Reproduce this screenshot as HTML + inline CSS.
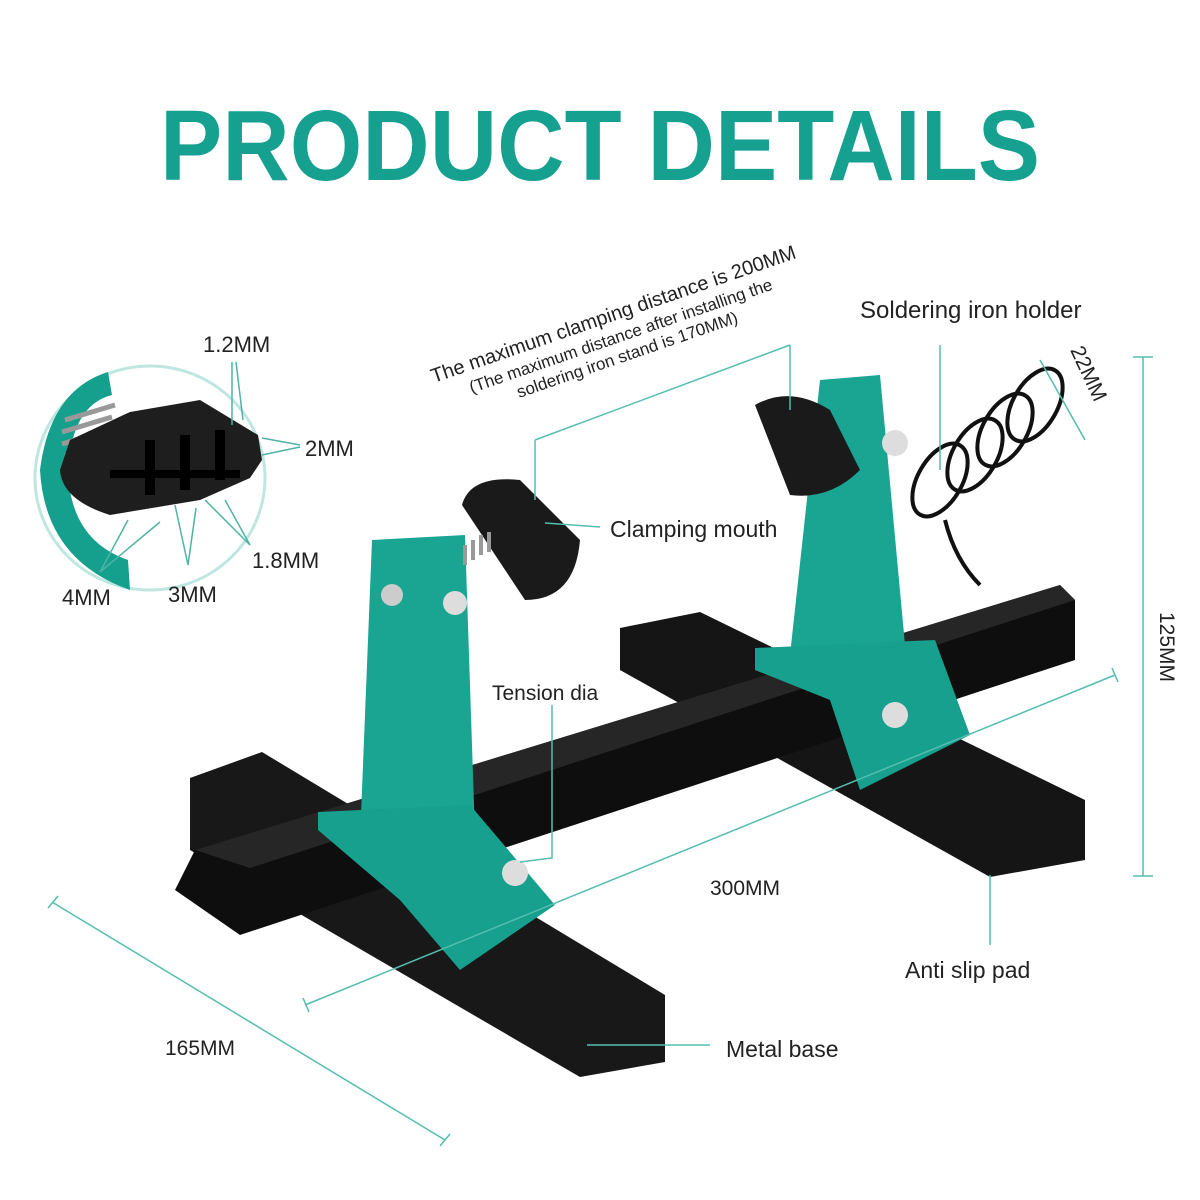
<!DOCTYPE html>
<html><head><meta charset="utf-8"><style>
html,body{margin:0;padding:0;background:#fff;}
svg{display:block}
text{font-family:"Liberation Sans",sans-serif;fill:#222}
</style></head><body>
<svg width="1200" height="1200" viewBox="0 0 1200 1200">
<text x="160" y="180" textLength="880" lengthAdjust="spacingAndGlyphs" style="font-size:100px;font-weight:bold;fill:#16a090">PRODUCT DETAILS</text>

<!-- inset -->
<ellipse cx="150" cy="478" rx="115" ry="112" fill="#fff" stroke="#bfe6e0" stroke-width="3"/>
<path d="M108,372 Q50,390 40,470 Q45,560 130,590 L128,560 Q70,540 68,470 Q72,405 112,395 Z" fill="#14a08c"/>
<g stroke="#999" stroke-width="5" fill="none"><path d="M65,420 l50,-15 M62,432 l50,-15 M62,444 l50,-15 M65,456 l50,-15"/></g>
<path d="M70,440 L130,412 L200,400 L258,435 L262,460 L250,478 L200,500 L110,515 Q62,500 60,470 Z" fill="#1e1e1e"/>
<g fill="#000"><rect x="110" y="470" width="130" height="8"/><rect x="145" y="440" width="10" height="55"/><rect x="180" y="435" width="10" height="55"/><rect x="215" y="430" width="10" height="50"/></g>
<g stroke="#4fb3a6" stroke-width="1.5" fill="none">
<path d="M232,362 L232,425 M236,362 L243,420 M300,445 L262,438 M300,447 L262,455 M250,545 L225,500 M250,545 L205,500 M188,565 L175,505 M188,565 L196,508 M100,572 L128,520 M100,572 L160,522"/>
</g>
<text x="203" y="352" style="font-size:22px">1.2MM</text>
<text x="305" y="456" style="font-size:22px">2MM</text>
<text x="252" y="568" style="font-size:22px">1.8MM</text>
<text x="62" y="605" style="font-size:22px">4MM</text>
<text x="168" y="602" style="font-size:22px">3MM</text>

<!-- base: crossbars then beam -->
<polygon points="620,628 700,612 1085,800 1085,860 990,877 620,670" fill="#151515"/>
<polygon points="190,778 262,752 665,995 665,1062 580,1077 190,850" fill="#181818"/>
<polygon points="195,850 1060,585 1075,600 1075,660 240,935 175,890" fill="#0e0e0e"/>
<polygon points="195,850 1060,585 1075,600 250,868" fill="#262626"/>

<!-- left upright -->
<polygon points="372,540 465,535 475,835 360,840" fill="#19a592"/>
<polygon points="318,812 470,805 555,905 460,970 400,900 318,830" fill="#16a08d"/>
<circle cx="392" cy="595" r="11" fill="#ccc"/>
<circle cx="455" cy="603" r="12" fill="#ddd"/>
<circle cx="515" cy="873" r="13" fill="#ddd"/>
<!-- right upright -->
<polygon points="820,380 880,375 905,645 790,655" fill="#19a592"/>
<polygon points="755,648 935,640 970,735 860,790 830,700 755,670" fill="#16a08d"/>
<circle cx="895" cy="443" r="13" fill="#ddd"/>
<circle cx="895" cy="715" r="13" fill="#ddd"/>
<!-- clamping mouths -->
<path d="M462,505 Q470,475 520,480 L580,540 Q575,600 525,600 Z" fill="#1a1a1a"/>
<g stroke="#999" stroke-width="4"><path d="M465,545 l0,20 M473,540 l0,20 M481,535 l0,20 M489,532 l0,20"/></g>
<path d="M755,405 Q790,385 830,410 L860,470 Q830,500 790,495 Z" fill="#1a1a1a"/>
<!-- spring -->
<g stroke="#111" stroke-width="4" fill="none">
<ellipse cx="940" cy="480" rx="22" ry="40" transform="rotate(30 940 480)"/>
<ellipse cx="975" cy="455" rx="22" ry="40" transform="rotate(30 975 455)"/>
<ellipse cx="1005" cy="430" rx="22" ry="40" transform="rotate(30 1005 430)"/>
<ellipse cx="1035" cy="405" rx="22" ry="40" transform="rotate(30 1035 405)"/>
<path d="M945,520 Q955,560 980,585"/>
</g>

<!-- dimension lines -->
<g stroke="#55bdb0" stroke-width="1.5" fill="none">
<path d="M52,902 L445,1140 M48,908 L58,896 M440,1146 L450,1134"/>
<path d="M305,1005 L1115,675 M303,998 L309,1012 M1112,668 L1118,682"/>
<path d="M1143,357 L1143,876 M1133,357 L1153,357 M1133,876 L1153,876"/>
<path d="M535,440 L790,345 M535,440 L535,500 M790,345 L790,410"/>
<path d="M1040,360 L1085,440"/>
<path d="M940,345 L940,470 M600,527 L545,523 M552,705 L552,858 L520,862 M990,875 L990,945 M587,1045 L710,1045"/>
</g>
<g transform="translate(618,328) rotate(-19)">
<text x="0" y="-8" text-anchor="middle" style="font-size:20px">The maximum clamping distance is 200MM</text>
<text x="0" y="14" text-anchor="middle" style="font-size:17px">(The maximum distance after installing the</text>
<text x="0" y="34" text-anchor="middle" style="font-size:17px">soldering iron stand is 170MM)</text>
</g>
<text x="0" y="0" transform="translate(1160,612) rotate(90)" style="font-size:21px">125MM</text>
<text x="0" y="0" transform="translate(1070,350) rotate(65)" style="font-size:21px">22MM</text>
<text x="860" y="318" style="font-size:24px">Soldering iron holder</text>
<text x="610" y="537" style="font-size:23px">Clamping mouth</text>
<text x="492" y="700" style="font-size:21px">Tension dia</text>
<text x="710" y="895" style="font-size:21px">300MM</text>
<text x="905" y="978" style="font-size:23px">Anti slip pad</text>
<text x="726" y="1057" style="font-size:23px">Metal base</text>
<text x="165" y="1055" style="font-size:21px">165MM</text>
</svg>
</body></html>
